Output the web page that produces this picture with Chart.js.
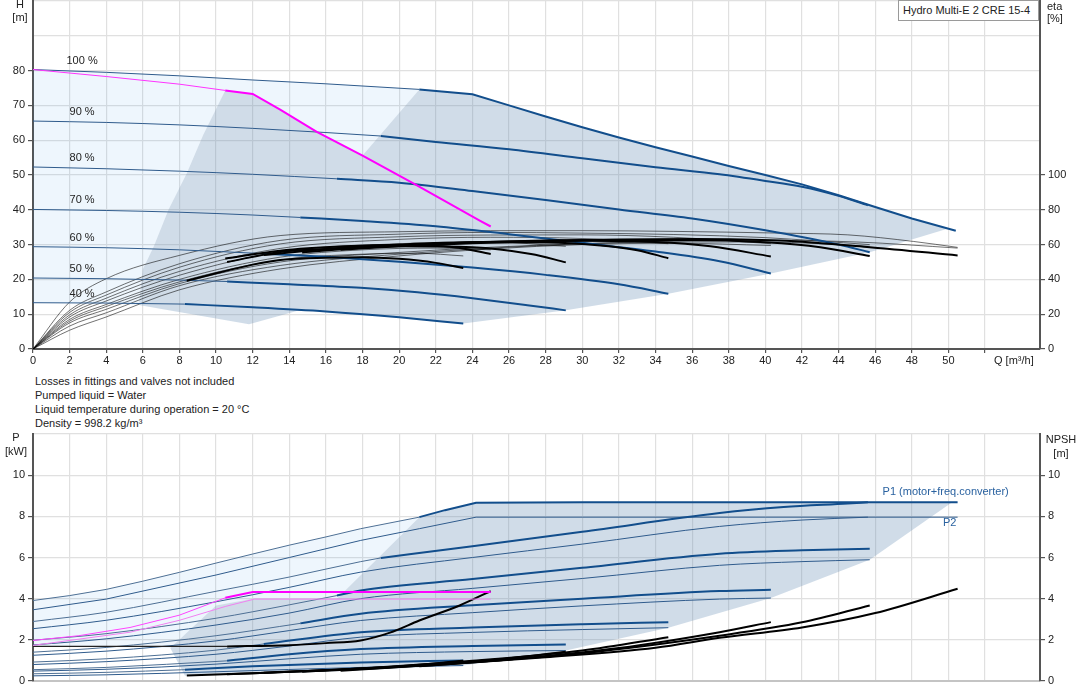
<!DOCTYPE html>
<html>
<head>
<meta charset="utf-8">
<script src="https://cdn.jsdelivr.net/npm/chart.js@4.4.0/dist/chart.umd.min.js"></script>
<style>
  body { margin:0; background:#fff; font-family:'Liberation Sans', Arial, sans-serif; color:#222; }
  #wrap { position:relative; width:1082px; height:700px; overflow:hidden; }
  canvas { position:absolute; left:0; }
  .lbl { position:absolute; font-size:11px; line-height:14px; white-space:nowrap; }
  .c { text-align:center; }
  #title { position:absolute; left:898px; top:0; width:141px; height:21px; border:1px solid #9a9a9a;
           font-size:11px; line-height:19px; padding-left:4px; box-sizing:border-box; background:#fff; }
</style>
</head>
<body>
<div id="wrap">
  <canvas id="hq" width="1082" height="372" style="top:0"></canvas>
  <canvas id="pq" width="1082" height="270" style="top:430px"></canvas>

  <div class="lbl c" style="left:5px;top:-2px;width:30px;line-height:13px">H<br>[m]</div>
  <div class="lbl" style="left:1047px;top:0;line-height:12px">eta<br>[%]</div>
  <div class="lbl" style="left:994px;top:353px">Q [m³/h]</div>
  <div id="title">Hydro Multi-E 2 CRE 15-4</div>

  <div class="lbl" style="left:35px;top:374px">Losses in fittings and valves not included<br>Pumped liquid = Water<br>Liquid temperature during operation = 20 °C<br>Density = 998.2 kg/m³</div>

  <div class="lbl c" style="left:1px;top:431px;width:30px;line-height:13.5px">P<br>[kW]</div>
  <div class="lbl c" style="left:1045px;top:432px;width:32px">NPSH<br>[m]</div>
</div>

<script>
// ---------- top chart: head H [m] per speed ----------
const speedLabels = ['100 %', '90 %', '80 %', '70 %', '60 %', '50 %', '40 %'];
const thickFrom   = [21.1, 19, 16.6, 14.6, 12.6, 10.6, 8.3];

const h100 = [[0,80.3],[4,79.5],[8,78.5],[12,77.3],[16,76.2],[21.1,74.6],[24,73.2],[26,70.0],[28,66.8],[30,63.7],[32,60.8],[34,58.0],[36,55.3],[38,52.6],[40,50.0],[42,47.3],[44,44.2],[46,40.8],[48,37.5],[50.4,34.0]];
const h90  = [[0,65.5],[4,65.1],[8,64.4],[12,63.4],[16,62.2],[19,61.2],[22,59.5],[26,57.4],[30,54.8],[34,52.2],[37.5,50.2],[40,48.3],[42,46.6],[44,44.0],[45.6,41.3]];
const h80  = [[0,52.3],[4,51.8],[8,51.1],[12,50.2],[16.6,48.9],[20,47.8],[24,45.4],[28,42.8],[32,40.1],[36,37.5],[40,34.1],[44,30.0],[45.7,27.8]];
const h70  = [[0,40.1],[4,39.8],[8,39.3],[12,38.5],[14.6,37.8],[18,36.8],[22,35.3],[26,33.0],[30,30.5],[34,28.0],[37.5,25.2],[40.3,21.7]];
const h60  = [[0,29.4],[4,29.1],[8,28.5],[12.6,27.4],[16,26.5],[20,25.1],[24,23.4],[28,21.3],[32,18.6],[34.7,15.9]];
const h50  = [[0,20.4],[4,20.2],[8,19.8],[10.6,19.4],[14,18.6],[17.9,17.6],[21,16.3],[24,14.6],[27,12.6],[29.1,11.1]];
const h40  = [[0,13.3],[4,13.2],[8.3,12.9],[12,12.0],[16,10.8],[20,9.1],[23.5,7.3]];
const hCurves = [h100, h90, h80, h70, h60, h50, h40];

const hLimit = [[0,80.3],[4,78.3],[8,76.1],[10.5,74.3],[12.0,73.3],[13.5,68.8],[15.5,62.4],[18.0,55.6],[20.8,47.5],[24.4,36.9],[25.0,35.2]];

// efficiency curves, eta [%]
const etaThin = [
  [[0,0],[2,27],[4,40.4],[8,53.8],[13.5,65.2],[20,67.4],[25,68],[30,68],[35,67.6],[40.8,66.6],[44.5,65.6],[48.1,61.8],[50.5,58.4]],
  [[0,0],[2,22.2],[4,32.8],[8,49],[13.5,62.4],[20,66],[25,67],[30,66.6],[35,65.8],[40,64],[45.7,60]],
  [[0,0],[2,21],[4,31],[8,47],[13.5,60.4],[20,64.5],[25,65.5],[30,65.6],[35,64.2],[40.3,60.5]],
  [[0,0],[2,19.6],[4,29.2],[8,44.6],[13.5,57.8],[20,63],[25,64.2],[30,63.5],[34.7,60.5]],
  [[0,0],[2,18.4],[4,27.6],[8,42.4],[13.5,55.8],[20,60.5],[25,61.5],[29.1,59]],
  [[0,0],[2,17],[4,25.6],[8,40],[13.5,52.8],[18,57],[22,58],[25,57]],
  [[0,0],[2,16],[4,24.4],[8,38.6],[13.5,51.2],[18,54.5],[21,55],[23.5,53.5]],
  [[0,0],[2,15],[4,22.8],[8,37.6],[13.5,50],[20,55.5],[25,58.5],[30,60.5],[35,61.5],[40,61.5],[45.7,59]],
  [[0,0],[2,13.2],[4,20.8],[8,36.4],[13.5,48],[20,54.5],[25,58],[30,60.5],[35,62],[40,62.4],[45,61.5],[50.5,58]],
  [[0,0],[2,10.8],[4,18.4],[8,34],[13.5,46],[20,53.5],[25,57.5],[30,60],[35,60.8],[40.3,59.5]]
];
const etaThick = [
  [[8.4,39.2],[10,43.5],[12,48.5],[13.5,51.2],[16,52.5],[18,52.8],[20,51.8],[22,49.5],[23.5,46.6]],
  [[10.6,50],[13.5,55.8],[16,57.5],[20,59],[24,58.5],[27.2,54.6],[29.1,49.8]],
  [[10.5,52],[13.5,56.5],[17,59],[20,59.8],[23,58.5],[25,54.6]],
  [[12.6,54],[16,57.5],[20,60],[24,61.3],[28,61.2],[31,59.5],[33,56.8],[34.7,52.2]],
  [[14.7,55.5],[18,58.2],[22,60.5],[26,61.8],[30,62.2],[34,61.5],[37,59],[40.3,53.2]],
  [[16.8,57],[20,59],[24,60.8],[28,62],[32,62.6],[36,62.6],[40,61.3],[43,58.5],[45.7,53.4]],
  [[21.1,60],[24,61.3],[28,62.4],[32,63],[36,63.2],[40.8,62.3],[45.7,58.5],[50.5,53.8]]
];

// operating areas (Q, H)
const hArea = [[5.85,12.6],[5.8,13.8],[6.0,22.9],[6.6,29.5],[7.4,40],[8.4,50.5],[9.3,61.6],[10.5,74.3],[12.0,73.3],[13.5,68.8],[15.5,62.4],[18.0,55.6],[21.1,74.6],[24,73.2],[26,70.0],[28,66.8],[30,63.7],[32,60.8],[34,58.0],[36,55.3],[38,52.6],[40,50.0],[42,47.3],[44,44.2],[46,40.8],[48,37.5],[49.9,34.5],[45.7,27.8],[40.3,21.7],[34.7,15.9],[29.1,11.1],[23.5,7.3],[20,9.1],[16,10.8],[14.6,11.2],[11.8,7.1]];
const hRange = [[0,13.3],[0,80.3],[4,79.5],[8,78.5],[12,77.3],[16,76.2],[21.1,74.6],[18.0,55.6],[15.5,62.4],[13.5,68.8],[12.0,73.3],[10.5,74.3],[9.3,61.6],[8.4,50.5],[7.4,40],[6.6,29.5],[6.0,22.9],[5.8,13.8],[5.85,12.6],[4,13.2]];

// ---------- bottom chart: power P [kW], NPSH [m] ----------
const p1_100 = [[0,3.91],[2,4.15],[4,4.45],[6,4.85],[8,5.28],[10,5.73],[12,6.17],[14,6.6],[16,7.0],[17.9,7.4],[21.1,7.96],[22.5,8.3],[24.2,8.66],[30,8.68],[40,8.68],[50.5,8.68]];
const p1_90  = [[0,2.89],[4,3.34],[10,4.36],[14,5.05],[17.9,5.8],[19,5.98],[24,6.55],[30,7.25],[37.5,8.16],[41,8.45],[44.5,8.62],[45.6,8.68]];
const p1_80  = [[0,1.98],[4,2.3],[10,3.05],[14,3.7],[16.6,4.15],[17.9,4.4],[24,4.95],[30,5.5],[37.5,6.18],[42,6.35],[45.7,6.43]];
const p1_70  = [[0,1.4],[4,1.63],[10,2.2],[14.6,2.8],[17.9,3.27],[24,3.68],[30,4.0],[37.5,4.37],[40.3,4.43]];
const p1_60  = [[0,0.92],[4,1.08],[10,1.5],[12.6,1.8],[17.9,2.37],[24,2.6],[30,2.76],[34.7,2.86]];
const p1_50  = [[0,0.55],[4,0.66],[10.6,0.98],[14,1.3],[17.9,1.55],[24,1.7],[29.1,1.77]];
const p1_40  = [[0,0.35],[4,0.42],[8.3,0.55],[12,0.72],[17.9,0.9],[23.5,1.0]];
const p1Curves = [p1_100, p1_90, p1_80, p1_70, p1_60, p1_50, p1_40];

const p2_100 = [[0,3.46],[4,3.98],[10,5.15],[14,6.0],[17.9,6.83],[21.1,7.4],[24.2,7.96],[30,7.96],[40,7.96],[50.5,7.96]];
const p2_90  = [[0,2.54],[4,2.95],[10,3.85],[14,4.55],[17.9,5.29],[24,6.0],[30,6.65],[37.5,7.51],[42,7.82],[45.6,7.96]];
const p2_80  = [[0,1.75],[4,2.05],[10,2.72],[14,3.3],[17.9,4.0],[24,4.5],[30,4.98],[37.5,5.62],[42,5.8],[45.7,5.89]];
const p2_70  = [[0,1.25],[4,1.45],[10,1.95],[14,2.45],[17.9,2.94],[24,3.32],[30,3.65],[37.5,3.98],[40.3,4.03]];
const p2_60  = [[0,0.8],[4,0.94],[10,1.3],[14,1.7],[17.9,2.13],[24,2.36],[30,2.5],[34.7,2.59]];
const p2_50  = [[0,0.48],[4,0.57],[10,0.82],[14,1.08],[17.9,1.3],[24,1.43],[29.1,1.48]];
const p2_40  = [[0,0.25],[4,0.3],[10,0.45],[17.9,0.66],[23.5,0.75]];
const p2Curves = [p2_100, p2_90, p2_80, p2_70, p2_60, p2_50, p2_40];

const p1Limit = [[0,1.97],[2.5,2.2],[5.3,2.6],[8,3.2],[10.5,4.04],[12,4.32],[18,4.32],[25,4.32]];
const p2Limit = [[0,1.73],[5.3,2.37],[8,2.95],[10.5,3.62],[12.1,3.98],[18,3.98],[25,3.98]];

const npshLimit = [[0,1.68],[5,1.68],[10.6,1.68],[14,1.74],[16,1.84],[17.9,1.97],[19.5,2.35],[21.1,2.94],[23.3,3.67],[25,4.37]];
const npshCurves = [
  [[8.4,0.27],[12,0.38],[16,0.52],[20,0.72],[23.5,0.98]],
  [[10.6,0.33],[15,0.48],[20,0.7],[25,1.02],[29.1,1.42]],
  [[12.6,0.4],[18,0.62],[24,0.98],[30,1.48],[34.7,2.13]],
  [[14.7,0.45],[20,0.68],[26,1.05],[32,1.6],[37.5,2.37],[40.3,2.86]],
  [[16.8,0.5],[24,0.92],[30,1.35],[37.5,2.2],[42,2.85],[45.7,3.67]],
  [[21.1,0.72],[28,1.15],[34,1.62],[37.5,2.1],[42,2.6],[46,3.3],[50.5,4.48]]
];

const pArea  = [[7.5,1.6],[10,3.67],[12,4.0],[16.6,4.0],[21.1,7.96],[24.2,8.66],[30,8.68],[40,8.68],[50.2,8.68],[45.7,5.89],[40.3,4.03],[34.7,2.59],[29.1,1.48],[23.5,0.75],[16,0.45],[8.3,0.25]];
const pRange = [[0,1.68],[0,3.91],[2,4.15],[4,4.45],[6,4.85],[8,5.28],[10,5.73],[12,6.17],[14,6.6],[16,7.0],[17.9,7.4],[21.1,7.96],[16.6,4.0],[12,4.0],[10,3.67],[7.5,1.6]];

// ---------- styling ----------
const BLUE = '#124e8c', BLUE_THIN = '#2f5b8c', GRID = '#e0e0e0', AXIS = '#555';
const RANGE_FILL = 'rgba(12,127,226,0.07)', AREA_FILL = 'rgba(98,138,178,0.3)';
const FONT = { family: "'Liberation Sans', Arial, sans-serif", size: 11 };

const pts = a => a.map(([x, y]) => ({ x, y }));
const from = (a, q) => a.filter(p => p[0] >= q);
const upto = (a, q) => a.filter(p => p[0] <= q);
// curves with a hard corner (limit lines) are drawn straight point to point
const cornered = [h100, hLimit, p1_100, p2_100, p1Limit, p2Limit];

function line(data, color, width, order, extra, src) {
  const straight = cornered.includes(src);
  return Object.assign({
    data: pts(data), borderColor: color, borderWidth: width, pointRadius: 0, fill: false, order,
    cubicInterpolationMode: straight ? 'default' : 'monotone', tension: 0
  }, extra || {});
}

function areaPlugin(areas) {
  return {
    id: 'areas',
    beforeDatasetsDraw(chart) {
      const { ctx, chartArea: a, scales: { x, y } } = chart;
      ctx.save();
      ctx.beginPath(); ctx.rect(a.left, a.top, a.width, a.height); ctx.clip();
      areas.forEach(r => {
        ctx.beginPath();
        r.data.forEach(([q, v], i) => {
          const px = x.getPixelForValue(q), py = y.getPixelForValue(v);
          if (i) ctx.lineTo(px, py); else ctx.moveTo(px, py);
        });
        ctx.closePath();
        ctx.fillStyle = r.color;
        ctx.fill();
      });
      ctx.restore();
    }
  };
}

function textPlugin(items) {
  return {
    id: 'texts',
    afterDatasetsDraw(chart) {
      const { ctx, scales: { x, y } } = chart;
      ctx.save();
      ctx.font = "11px 'Liberation Sans', Arial, sans-serif";
      ctx.textBaseline = 'middle';
      items.forEach(t => {
        ctx.fillStyle = t.color;
        ctx.textAlign = t.align;
        ctx.fillText(t.text, x.getPixelForValue(t.q), y.getPixelForValue(t.v) + (t.dy || 0));
      });
      ctx.restore();
    }
  };
}

const fitW = w => s => { s.width = w; s.paddingTop = 0; s.paddingBottom = 0; };
const fitH = h => s => { s.height = h; s.paddingLeft = 0; s.paddingRight = 0; };

function xScale(height, showLabels) {
  return {
    type: 'linear', min: 0, max: 55,
    grid: { color: GRID, lineWidth: 1.2, tickLength: showLabels ? 4 : 0, drawTicks: showLabels,
            tickColor: c => (c.tick && c.tick.value <= 52) ? AXIS : 'rgba(0,0,0,0)' },
    border: { color: showLabels ? AXIS : '#c4c4c4', width: 2 },
    ticks: { display: showLabels, stepSize: 2, color: '#222', font: FONT, padding: 1, maxRotation: 0,
             autoSkip: false, callback: v => v <= 50 ? v : '' },
    afterFit: fitH(height)
  };
}

function yScale(max, step, labelMax, position, width, gridOn) {
  return {
    type: 'linear', position, min: 0, max,
    grid: { color: GRID, lineWidth: 1.2, drawOnChartArea: gridOn, tickLength: 5,
            tickColor: c => (c.tick && c.tick.value <= labelMax) ? AXIS : 'rgba(0,0,0,0)' },
    border: { color: AXIS, width: 2 },
    ticks: { stepSize: step, color: '#222', font: FONT, padding: 3, autoSkip: false,
             callback: v => v <= labelMax ? v : '' },
    afterFit: fitW(width)
  };
}

const baseOptions = {
  responsive: false, animation: false,
  plugins: { legend: { display: false }, tooltip: { enabled: false } }
};

// ---------- top chart datasets ----------
const topSets = [];
etaThin.forEach(c => topSets.push(line(c, 'rgba(0,0,0,0.7)', 0.8, 50, { yAxisID: 'eta' })));
hCurves.forEach((c, i) => {
  topSets.push(line(upto(c, thickFrom[i]), BLUE_THIN, 1, 40, { yAxisID: 'y' }, c));
  topSets.push(line(from(c, thickFrom[i]), BLUE, 2, 30, { yAxisID: 'y' }, c));
});
etaThick.forEach(c => topSets.push(line(c, '#000', 2, 20, { yAxisID: 'eta' })));
topSets.push(line(upto(hLimit, 10.5), '#ff33ff', 1, 10, { yAxisID: 'y' }, hLimit));
topSets.push(line(from(hLimit, 10.5), '#ff00ff', 2, 10, { yAxisID: 'y' }, hLimit));

new Chart(document.getElementById('hq'), {
  type: 'line',
  data: { datasets: topSets },
  options: Object.assign({}, baseOptions, {
    layout: { autoPadding: false, padding: { top: 1, left: 0, right: 0, bottom: 0 } },
    scales: {
      x: xScale(23, true),
      y: yScale(100, 10, 80, 'left', 33, true),
      eta: yScale(200, 20, 100, 'right', 42, false)
    }
  }),
  plugins: [
    areaPlugin([{ data: hRange, color: RANGE_FILL }, { data: hArea, color: AREA_FILL }]),
    textPlugin(speedLabels.map((t, i) => ({ text: t, q: 2.68, v: hCurves[i][0][1], dy: -9, color: '#222', align: 'center' })))
  ]
});

// ---------- bottom chart datasets ----------
const botSets = [];
p1Curves.forEach((c, i) => {
  botSets.push(line(upto(c, thickFrom[i]), '#4d6f94', 1, 40, { yAxisID: 'y' }, c));
  botSets.push(line(from(c, thickFrom[i]), BLUE, 2, 30, { yAxisID: 'y' }, c));
});
p2Curves.forEach(c => botSets.push(line(c, BLUE_THIN, 1, 35, { yAxisID: 'y' }, c)));
botSets.push(line(upto(npshLimit, 10.6), '#222', 1.2, 20, { yAxisID: 'npsh' }));
botSets.push(line(from(npshLimit, 10.6), '#000', 2, 20, { yAxisID: 'npsh' }));
npshCurves.forEach(c => botSets.push(line(c, '#000', 2, 20, { yAxisID: 'npsh' })));
botSets.push(line(p2Limit, '#f080f0', 1, 10, { yAxisID: 'y' }, p2Limit));
botSets.push(line(upto(p1Limit, 10.5), '#ff44ff', 1, 10, { yAxisID: 'y' }, p1Limit));
botSets.push(line(from(p1Limit, 10.5), '#ff00ff', 2, 10, { yAxisID: 'y' }, p1Limit));

new Chart(document.getElementById('pq'), {
  type: 'line',
  data: { datasets: botSets },
  options: Object.assign({}, baseOptions, {
    layout: { autoPadding: false, padding: { top: 4, left: 0, right: 0, bottom: 0 } },
    scales: {
      x: xScale(19, false),
      y: yScale(12, 2, 10, 'left', 33, true),
      npsh: yScale(12, 2, 10, 'right', 42, false)
    }
  }),
  plugins: [
    areaPlugin([{ data: pRange, color: RANGE_FILL }, { data: pArea, color: AREA_FILL }]),
    textPlugin([
      { text: 'P1 (motor+freq.converter)', q: 46.4, v: 9.2, color: '#2a62a0', align: 'left' },
      { text: 'P2', q: 49.7, v: 7.7, color: '#2a62a0', align: 'left' }
    ])
  ]
});
</script>
</body>
</html>
